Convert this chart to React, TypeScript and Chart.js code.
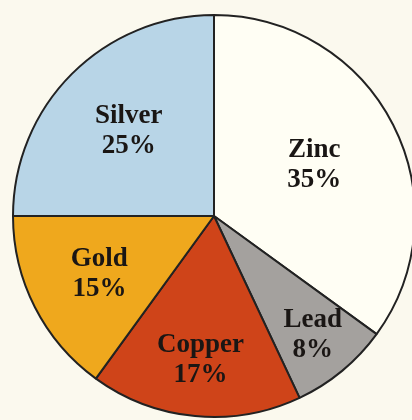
import React, { useEffect, useRef } from "react";
import { Chart, registerables } from "chart.js";

Chart.register(...registerables);

const metals = ["Zinc", "Lead", "Copper", "Gold", "Silver"];
const shares = [35, 8, 17, 15, 25];
const sliceColors = ["#fffef4", "#a4a19e", "#cf4419", "#efa81d", "#b8d5e7"];
const labelRadius = [0.56, 0.77, 0.72, 0.64, 0.6];

const labelPlugin = {
  id: "sliceLabels",
  afterDatasetsDraw(chart: any) {
    const ctx = chart.ctx;
    const meta = chart.getDatasetMeta(0);
    ctx.save();
    ctx.fillStyle = "#1a1614";
    ctx.font = "bold 27px 'Liberation Serif', serif";
    ctx.textAlign = "center";
    ctx.textBaseline = "middle";
    meta.data.forEach((arc: any, i: number) => {
      const { x, y, startAngle, endAngle, outerRadius } = arc.getProps(
        ["x", "y", "startAngle", "endAngle", "outerRadius"],
        true
      );
      const mid = (startAngle + endAngle) / 2;
      const r = outerRadius * labelRadius[i];
      const cx = x + Math.cos(mid) * r;
      const cy = y + Math.sin(mid) * r;
      ctx.fillText(metals[i], cx, cy - 15);
      ctx.fillText(shares[i] + "%", cx, cy + 15);
    });
    ctx.restore();
  },
};

export default function App() {
  const ref = useRef<HTMLCanvasElement | null>(null);
  useEffect(() => {
    document.body.style.margin = "0";
    document.body.style.background = "#fbf9ee";
    const chart = new Chart(ref.current!, {
      type: "pie",
      data: {
        labels: metals,
        datasets: [
          {
            data: shares,
            backgroundColor: sliceColors,
            borderColor: "#222",
            borderWidth: 2,
          },
        ],
      },
      options: {
        animation: false,
        responsive: false,
        layout: { padding: { left: 12, right: 12, top: 14, bottom: 12 } },
        plugins: {
          legend: { display: false },
          tooltip: { enabled: false },
        },
      },
      plugins: [labelPlugin],
    });
    return () => chart.destroy();
  }, []);
  return (
    <div
      style={{
        position: "fixed",
        left: 0,
        top: 0,
        width: 428,
        height: 430,
        background: "#fbf9ee",
      }}
    >
      <canvas ref={ref} width={428} height={430} />
    </div>
  );
}
